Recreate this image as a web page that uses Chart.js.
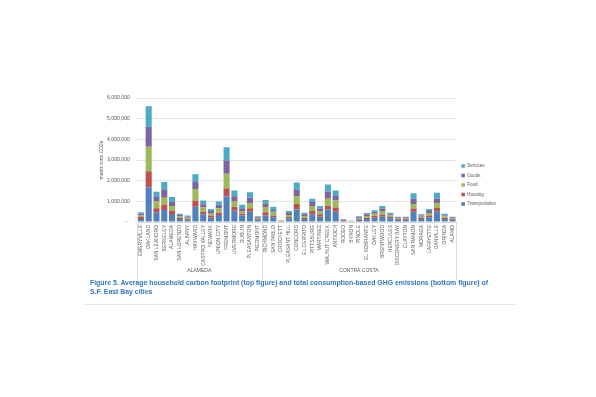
<!DOCTYPE html>
<html><head><meta charset="utf-8">
<script src="https://cdn.jsdelivr.net/npm/chart.js@4/dist/chart.umd.min.js"></script>
<style>
html,body{margin:0;padding:0;background:#fff;width:596px;height:397px;overflow:hidden}
#wrap{position:absolute;left:0;top:0;width:596px;height:397px}
#cap{position:absolute;left:90px;top:278px;width:408px;font-family:"Liberation Sans",Arial,sans-serif;font-weight:bold;font-size:6.9px;line-height:9px;color:#3278C0;white-space:normal}
#rule{position:absolute;left:84px;top:304px;width:432px;height:1px;background:#e6e6e6}
</style></head><body>
<div id="wrap"><canvas id="c" width="596" height="397"></canvas></div>
<div id="cap">Figure 5. Average household carbon footprint (top figure) and total consumption-based GHG emissions (bottom figure) of S.F. East Bay cities</div>
<div id="rule"></div>
<script>
const cities = ['EMERYVILLE','OAKLAND','SAN LEANDRO','BERKELEY','ALAMEDA','SAN LORENZO','ALBANY','HAYWARD','CASTRO VALLEY','NEWARK','UNION CITY','FREMONT','LIVERMORE','DUBLIN','PLEASANTON','PIEDMONT',
 'RICHMOND','SAN PABLO','CROCKETT','PLEASANT HILL','CONCORD','EL CERRITO','PITTSBURG','MARTINEZ','WALNUT CREEK','ANTIOCH','RODEO','BYRON','PINOLE','EL SOBRANTE','OAKLEY','BRENTWOOD','HERCULES','DISCOVERY BAY','CLAYTON','SAN RAMON','MORAGA','LAFAYETTE','DANVILLE','ORINDA','ALAMO'];
const counties = ['ALAMEDA','CONTRA COSTA'];
const countyCityCounts = [16, 25];

const transportation = [150000,1680000,470000,580000,390000,150000,110000,740000,370000,210000,340000,1230000,550000,310000,500000,110000,
 320000,230000,30000,180000,610000,150000,370000,260000,610000,490000,50000,20000,110000,150000,210000,260000,180000,110000,110000,490000,150000,230000,520000,150000,110000];
const housing = [90000,780000,190000,260000,160000,60000,50000,300000,130000,100000,110000,390000,190000,90000,160000,50000,
 150000,90000,10000,60000,260000,60000,160000,110000,180000,210000,30000,10000,50000,60000,80000,100000,60000,50000,50000,160000,60000,90000,160000,60000,50000];
const food = [80000,1180000,330000,330000,230000,70000,50000,560000,200000,130000,210000,710000,250000,130000,230000,30000,
 260000,170000,20000,100000,380000,80000,250000,150000,330000,340000,20000,10000,30000,80000,110000,170000,70000,30000,30000,220000,50000,120000,210000,70000,30000];
const goods = [80000,970000,220000,380000,210000,60000,50000,340000,160000,90000,170000,650000,260000,130000,280000,40000,
 160000,90000,10000,100000,300000,80000,190000,130000,340000,220000,10000,10000,40000,80000,90000,120000,60000,40000,40000,250000,50000,90000,240000,40000,40000];
const services = [70000,990000,250000,380000,220000,60000,50000,370000,180000,100000,160000,640000,270000,170000,270000,50000,
 180000,160000,10000,90000,360000,80000,160000,130000,350000,260000,20000,10000,50000,70000,80000,130000,80000,30000,30000,270000,60000,100000,290000,80000,30000];
const yTicks = [0,1000000,2000000,3000000,4000000,5000000,6000000];

const FONT = '"Liberation Sans", Arial, sans-serif';
const GREY = '#595959';

const groupPlugin = {
  id: 'groups',
  afterDraw(chart) {
    const xs = chart.scales.x, ctx = chart.ctx;
    const y0 = chart.chartArea.bottom;
    const half = (xs.getPixelForValue(1) - xs.getPixelForValue(0)) / 2;
    ctx.save();
    ctx.strokeStyle = '#d9d9d9';
    ctx.lineWidth = 1;
    ctx.fillStyle = GREY;
    ctx.font = '5px ' + FONT;
    ctx.textAlign = 'center';
    ctx.textBaseline = 'middle';
    let start = 0;
    const drawLine = (px) => { ctx.beginPath(); ctx.moveTo(Math.round(px) + 0.5, y0); ctx.lineTo(Math.round(px) + 0.5, y0 + 58); ctx.stroke(); };
    drawLine(xs.getPixelForValue(0) - half);
    countyCityCounts.forEach((n, i) => {
      const a = xs.getPixelForValue(start) - half;
      const b = xs.getPixelForValue(start + n - 1) + half;
      drawLine(b);
      ctx.fillText(counties[i], (a + b) / 2, y0 + 49);
      start += n;
    });
    ctx.restore();
  }
};

const mk = (label, data, color) => ({label, data, backgroundColor: color, borderWidth: 0, barPercentage: 0.78, categoryPercentage: 1});

const chart = new Chart(document.getElementById('c'), {
  type: 'bar',
  data: {
    labels: cities,
    datasets: [
      mk('Transportation', transportation, '#4F81BD'),
      mk('Housing', housing, '#C0504D'),
      mk('Food', food, '#9BBB59'),
      mk('Goods', goods, '#8064A2'),
      mk('Services', services, '#4BACC6')
    ]
  },
  options: {
    responsive: false,
    animation: false,
    devicePixelRatio: 1,
    layout: {padding: {left: 95, top: 98, right: 90, bottom: 125}},
    plugins: {
      tooltip: {enabled: false},
      legend: {
        position: 'right',
        align: 'center',
        reverse: true,
        labels: {boxWidth: 3.5, boxHeight: 3.5, padding: 5, color: GREY, font: {family: FONT, size: 4.5}}
      }
    },
    scales: {
      x: {
        stacked: true,
        grid: {display: false, drawTicks: false},
        border: {color: '#d9d9d9'},
        ticks: {autoSkip: false, minRotation: 90, maxRotation: 90, padding: 3, color: GREY, font: {family: FONT, size: 5}},
        afterFit(s) { s.height = 50; }
      },
      y: {
        stacked: true,
        min: 0, max: 6000000,
        afterBuildTicks(s) { s.ticks = yTicks.map(v => ({value: v})); },
        grid: {color: '#e3e3e3', drawTicks: false},
        border: {display: false},
        ticks: {padding: 7, color: GREY, font: {family: FONT, size: 5.2},
          callback: v => v === 0 ? '-\u00a0\u00a0' : v.toLocaleString('en-US')},
        title: {display: true, text: 'metric tons CO2e', color: GREY, font: {family: FONT, size: 5}, padding: {top: 4, bottom: 0}},
        afterFit(s) { s.width = 42; }
      }
    }
  },
  plugins: [groupPlugin]
});
</script>
</body></html>
